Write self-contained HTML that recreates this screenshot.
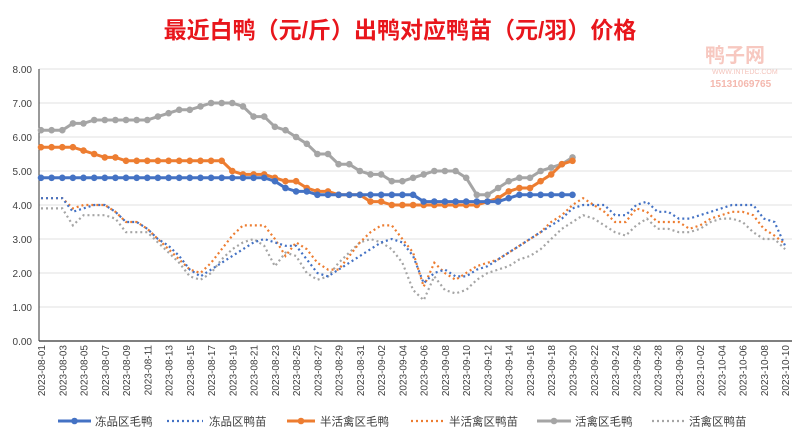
<!DOCTYPE html><html><head><meta charset="utf-8"><style>
body{margin:0;background:#fff;width:800px;height:438px;overflow:hidden;font-family:"Liberation Sans","Noto Sans CJK SC",sans-serif}
</style></head><body>
<svg id="s" width="800" height="438" xmlns="http://www.w3.org/2000/svg" font-family="Liberation Sans, Noto Sans CJK SC, sans-serif">
<text x="400" y="38" text-anchor="middle" font-size="23" font-weight="bold" fill="#e8161c">最近白鸭（元/斤）出鸭对应鸭苗（元/羽）价格</text>
<text x="705" y="62" font-size="20" font-weight="bold" fill="#f7c8c0">鸭子网</text>
<text x="712" y="74" font-size="7" fill="#f4c4bc">WWW.INTEDC.COM</text>
<text x="710" y="87" font-size="10" fill="#f4b8ae" font-weight="bold">15131069765</text>
<g id="g"></g>
</svg>
<script>
const g=document.getElementById('g');let h='';
const X=i=>41+i*10.63, Y=v=>341-v*34;
for(let v=0;v<=8;v++){const y=Y(v);if(v>0)h+=`<line x1="39" x2="792" y1="${y}" y2="${y}" stroke="#e0e0e0" stroke-width="1"/>`;h+=`<text x="32" y="${y+4}" text-anchor="end" font-size="10" fill="#404040">${v.toFixed(2)}</text>`;}
h+=`<line x1="39" x2="39" y1="69" y2="341" stroke="#333" stroke-width="1"/><line x1="39" x2="792" y1="341" y2="341" stroke="#333" stroke-width="1.2"/>`;
const d0=new Date(2023,7,1);
for(let i=0;i<=70;i+=2){const d=new Date(d0.getTime()+i*864e5);const s=`2023-${String(d.getMonth()+1).padStart(2,'0')}-${String(d.getDate()).padStart(2,'0')}`;const x=X(i)+4;h+=`<text transform="translate(${x},345) rotate(-90)" text-anchor="end" font-size="10" fill="#404040">${s}</text>`;}
const bS=[];for(let i=0;i<=21;i++)bS.push(4.8);bS.push(4.7,4.5,4.4,4.4);for(let i=26;i<=35;i++)bS.push(4.3);for(let i=36;i<=43;i++)bS.push(4.1);bS.push(4.2,4.3,4.3,4.3,4.3,4.3,4.3);
const oS=[5.7,5.7,5.7,5.7,5.6,5.5,5.4,5.4,5.3,5.3,5.3,5.3,5.3,5.3,5.3,5.3,5.3,5.3,5.0,4.9,4.9,4.9,4.8,4.7,4.7,4.5,4.4,4.4,4.3,4.3,4.3,4.1,4.1,4.0,4.0,4.0,4.0,4.0,4.0,4.0,4.0,4.0,4.1,4.2,4.4,4.5,4.5,4.7,4.9,5.2,5.3];
const gS=[6.2,6.2,6.2,6.4,6.4,6.5,6.5,6.5,6.5,6.5,6.5,6.6,6.7,6.8,6.8,6.9,7.0,7.0,7.0,6.9,6.6,6.6,6.3,6.2,6.0,5.8,5.5,5.5,5.2,5.2,5.0,4.9,4.9,4.7,4.7,4.8,4.9,5.0,5.0,5.0,4.8,4.3,4.3,4.5,4.7,4.8,4.8,5.0,5.1,5.2,5.4];
const bD=[4.2,4.2,4.2,3.8,3.9,4.0,4.0,3.8,3.5,3.5,3.3,3.0,2.8,2.5,2.1,1.9,2.1,2.3,2.5,2.7,2.9,3.0,2.9,2.8,2.8,2.4,2.0,1.9,2.1,2.3,2.5,2.7,2.9,3.0,2.9,2.5,1.7,2.0,2.1,1.9,1.9,2.1,2.2,2.4,2.6,2.8,3.0,3.2,3.4,3.6,3.9,4.0,4.0,4.0,3.7,3.7,4.0,4.1,3.8,3.8,3.6,3.6,3.7,3.8,3.9,4.0,4.0,4.0,3.6,3.5,2.8];
const oD=[4.2,4.2,4.2,3.9,4.0,4.0,4.0,3.8,3.5,3.5,3.3,3.0,2.7,2.4,2.1,2.0,2.3,2.7,3.1,3.4,3.4,3.4,3.0,2.5,2.9,2.7,2.3,2.1,2.1,2.5,2.9,3.2,3.4,3.4,3.0,2.6,1.6,2.3,2.0,1.8,2.0,2.2,2.3,2.4,2.6,2.8,3.0,3.2,3.5,3.7,4.0,4.2,4.0,3.8,3.5,3.5,3.9,3.8,3.5,3.5,3.5,3.3,3.4,3.6,3.7,3.8,3.8,3.7,3.3,3.1,2.85];
const gD=[3.9,3.9,3.9,3.4,3.7,3.7,3.7,3.6,3.2,3.2,3.2,2.9,2.6,2.3,1.9,1.8,2.0,2.4,2.7,2.9,3.0,2.8,2.2,2.6,2.5,2.0,1.8,1.9,2.3,2.6,2.9,3.0,2.9,2.7,2.3,1.5,1.2,1.9,1.5,1.4,1.5,1.8,2.0,2.1,2.2,2.4,2.5,2.7,3.0,3.3,3.5,3.7,3.6,3.4,3.2,3.1,3.4,3.6,3.3,3.3,3.2,3.2,3.3,3.5,3.6,3.6,3.5,3.2,3.0,3.0,2.7];
const pts=a=>a.map((v,i)=>`${X(i).toFixed(1)},${Y(v).toFixed(1)}`).join(' ');
const dot=(a,c)=>{h+=`<polyline points="${pts(a)}" fill="none" stroke="${c}" stroke-width="2.2" stroke-dasharray="2 3"/>`;};
const sol=(a,c)=>{h+=`<polyline points="${pts(a)}" fill="none" stroke="${c}" stroke-width="3"/>`;a.forEach((v,i)=>h+=`<circle cx="${X(i).toFixed(1)}" cy="${Y(v).toFixed(1)}" r="3.3" fill="${c}"/>`);};
dot(gD,'#a5a5a5');dot(oD,'#ed7d31');dot(bD,'#4472c4');
sol(gS,'#a5a5a5');sol(oS,'#ed7d31');sol(bS,'#4472c4');
const L=[[58,91,95,'冻品区毛鸭','#4472c4',1],[167,203,209,'冻品区鸭苗','#4472c4',0],[287,315,320,'半活禽区毛鸭','#ed7d31',1],[411,445,449,'半活禽区鸭苗','#ed7d31',0],[537,571,575,'活禽区毛鸭','#a5a5a5',1],[652,685,689,'活禽区鸭苗','#a5a5a5',0]];
L.forEach(([a,b,tx,t,c,s])=>{if(s){h+=`<line x1="${a}" x2="${b}" y1="421" y2="421" stroke="${c}" stroke-width="3"/><circle cx="${(a+b)/2}" cy="421" r="3.3" fill="${c}"/>`;}else{h+=`<line x1="${a}" x2="${b}" y1="421" y2="421" stroke="${c}" stroke-width="2.2" stroke-dasharray="2 3"/>`;}
h+=`<text x="${tx}" y="425.5" font-size="11.5" fill="#404040">${t}</text>`;});
g.innerHTML=h;
</script>
</body></html>
